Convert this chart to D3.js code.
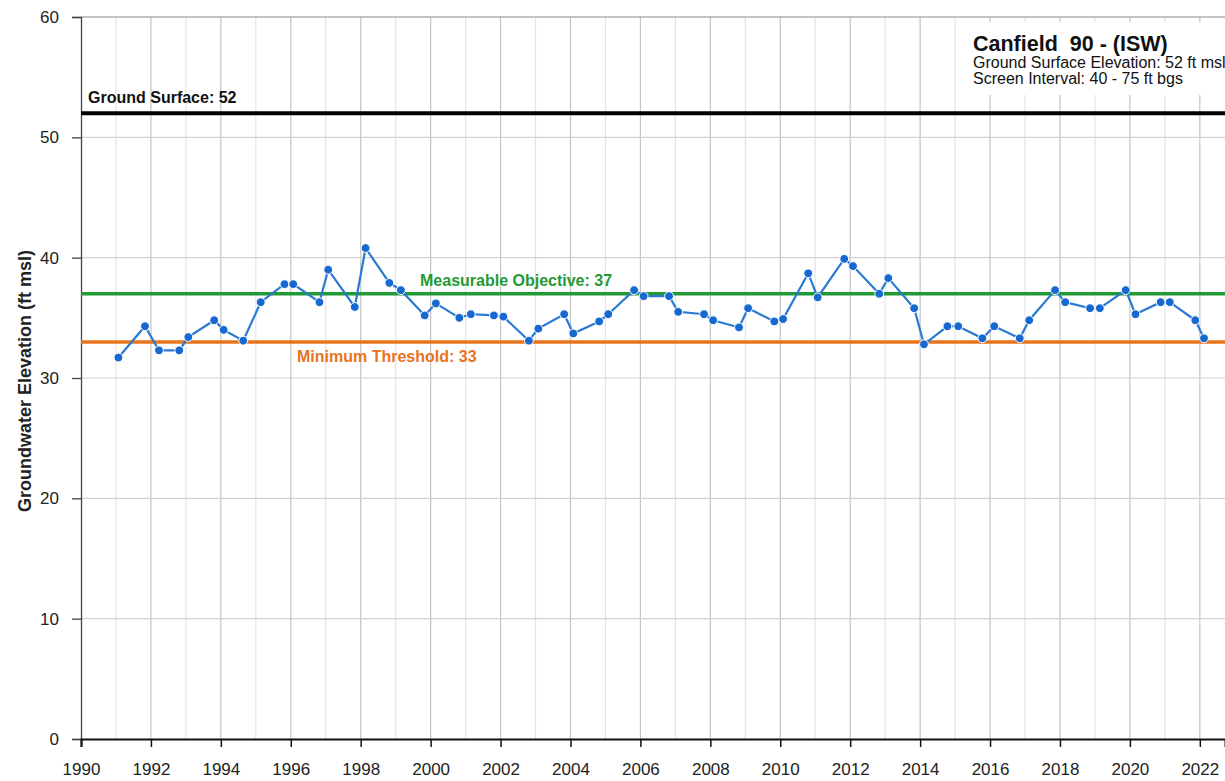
<!DOCTYPE html>
<html>
<head>
<meta charset="utf-8">
<script src="https://cdn.jsdelivr.net/npm/d3@7"></script>
<style>
  body { margin: 0; background: #fff; }
  svg { font-family: "Liberation Sans", Arial, sans-serif; }
  .tick text { font-size: 17px; fill: #222; }
</style>
</head>
<body>
<svg id="chart" width="1225" height="781"></svg>
<script>
// groundwater levels (decimal year, ft msl)
var years = [1991.07, 1991.83, 1992.23, 1992.81, 1993.07, 1993.81, 1994.08, 1994.64,
  1995.14, 1995.82, 1996.07, 1996.82, 1997.07, 1997.83, 1998.14, 1998.82, 1999.15,
  1999.83, 2000.15, 2000.82, 2001.15, 2001.81, 2002.08, 2002.81, 2003.08, 2003.82,
  2004.08, 2004.82, 2005.08, 2005.82, 2006.09, 2006.82, 2007.08, 2007.82, 2008.08,
  2008.82, 2009.08, 2009.83, 2010.08, 2010.80, 2011.07, 2011.83, 2012.08, 2012.83,
  2013.09, 2013.83, 2014.11, 2014.78, 2015.09, 2015.78, 2016.12, 2016.85, 2017.12,
  2017.86, 2018.15, 2018.86, 2019.14, 2019.88, 2020.16, 2020.88, 2021.14, 2021.87, 2022.12];
var levels = [31.7, 34.3, 32.3, 32.3, 33.4, 34.8, 34.0, 33.1,
  36.3, 37.8, 37.8, 36.3, 39.0, 35.9, 40.8, 37.9, 37.3,
  35.2, 36.2, 35.0, 35.3, 35.2, 35.1, 33.1, 34.1, 35.3,
  33.7, 34.7, 35.3, 37.3, 36.8, 36.8, 35.5, 35.3, 34.8,
  34.2, 35.8, 34.7, 34.9, 38.7, 36.7, 39.9, 39.3, 37.0,
  38.3, 35.8, 32.8, 34.3, 34.3, 33.3, 34.3, 33.3, 34.8,
  37.3, 36.3, 35.8, 35.8, 37.3, 35.3, 36.3, 36.3, 34.8, 33.3];

var refNames = ['Ground Surface: 52', 'Measurable Objective: 37', 'Minimum Threshold: 33'];
var refValues = [52, 37, 33];
var refColors = ['#000000', '#1f9a35', '#e8741e'];

var titleLines = ['Canfield  90 - (ISW)', 'Ground Surface Elevation: 52 ft msl', 'Screen Interval: 40 - 75 ft bgs'];
var yTicks = [0, 10, 20, 30, 40, 50, 60];

var dims = { width: 1225, height: 781, margins: { top: 17, right: 0, bottom: 42, left: 81 } };
var m = dims.margins;

var svg = d3.select('#chart');

var x = d3.scaleLinear().domain([1990, 2022.72]).range([m.left, dims.width - m.right]);
var y = d3.scaleLinear().domain([0, 60]).range([dims.height - m.bottom, m.top]);

// vertical grid, one line a year, even years darker
var allYears = d3.range(1991, 2023);
svg.append('g').selectAll('line')
  .data(allYears)
  .enter().append('line')
  .attr('x1', d => x(d)).attr('x2', d => x(d))
  .attr('y1', y(0)).attr('y2', y(60))
  .attr('stroke', d => d % 2 === 0 ? '#c4c4c4' : '#e4e4e4')
  .attr('stroke-width', 1.2);

svg.append('g').selectAll('line')
  .data(yTicks.slice(1))
  .enter().append('line')
  .attr('x1', m.left).attr('x2', dims.width)
  .attr('y1', d => y(d)).attr('y2', d => y(d))
  .attr('stroke', d => d === 60 ? '#8a8a8a' : '#d2d2d2')
  .attr('stroke-width', 1.2);

// axes
var yAxis = svg.append('g')
  .attr('transform', 'translate(' + m.left + ',0)')
  .call(d3.axisLeft(y).tickValues(yTicks).tickSize(9).tickPadding(13));
yAxis.select('.domain').attr('stroke', '#444').attr('stroke-width', 1.3);
yAxis.selectAll('.tick line').attr('stroke', '#444').attr('stroke-width', 1.3);

var xAxis = svg.append('g')
  .attr('transform', 'translate(0,' + y(0) + ')')
  .call(d3.axisBottom(x).tickValues(d3.range(1990, 2023, 2)).tickFormat(d3.format('d')).tickSize(8).tickPadding(16));
xAxis.select('.domain').attr('stroke', '#111').attr('stroke-width', 2);
xAxis.selectAll('.tick line').attr('stroke', '#111').attr('stroke-width', 1.5);

svg.append('text')
  .attr('transform', 'translate(31,' + 381 + ') rotate(-90)')
  .attr('text-anchor', 'middle')
  .attr('font-size', 18).attr('font-weight', 'bold').attr('fill', '#222')
  .text('Groundwater Elevation (ft msl)');

// reference lines
svg.append('g').selectAll('line')
  .data(refValues)
  .enter().append('line')
  .attr('x1', m.left).attr('x2', dims.width)
  .attr('y1', d => y(d)).attr('y2', d => y(d))
  .attr('stroke', (d, i) => refColors[i])
  .attr('stroke-width', (d, i) => i === 0 ? 4 : 3.5);

var refLabelX = [88, 420, 297];
var refLabelDy = [-10, -8, 20];
svg.append('g').selectAll('text')
  .data(refNames)
  .enter().append('text')
  .attr('x', (d, i) => refLabelX[i])
  .attr('y', (d, i) => y(refValues[i]) + refLabelDy[i])
  .attr('font-size', 16).attr('font-weight', 'bold')
  .attr('fill', (d, i) => i === 0 ? '#111' : refColors[i])
  .text(d => d);

// hydrograph
var pts = years.map((d, i) => [d, levels[i]]);
svg.append('path')
  .datum(pts)
  .attr('fill', 'none')
  .attr('stroke', '#2a7ad3')
  .attr('stroke-width', 2.2)
  .attr('d', d3.line().x(d => x(d[0])).y(d => y(d[1])));

svg.append('g').selectAll('circle')
  .data(pts)
  .enter().append('circle')
  .attr('cx', d => x(d[0]))
  .attr('cy', d => y(d[1]))
  .attr('r', 4.4)
  .attr('fill', '#1769d1')
  .attr('stroke', '#fff')
  .attr('stroke-width', 1);

// well info box
svg.append('rect')
  .attr('x', 959).attr('y', 22).attr('width', 270).attr('height', 73)
  .attr('fill', '#fff');
svg.append('g').selectAll('text')
  .data(titleLines)
  .enter().append('text')
  .attr('x', 973)
  .attr('y', (d, i) => [51, 68, 84][i])
  .attr('font-size', (d, i) => i === 0 ? 21.5 : 16)
  .attr('font-weight', (d, i) => i === 0 ? 'bold' : 'normal')
  .attr('fill', '#111')
  .style('white-space', 'pre')
  .text(d => d);
</script>
</body>
</html>
